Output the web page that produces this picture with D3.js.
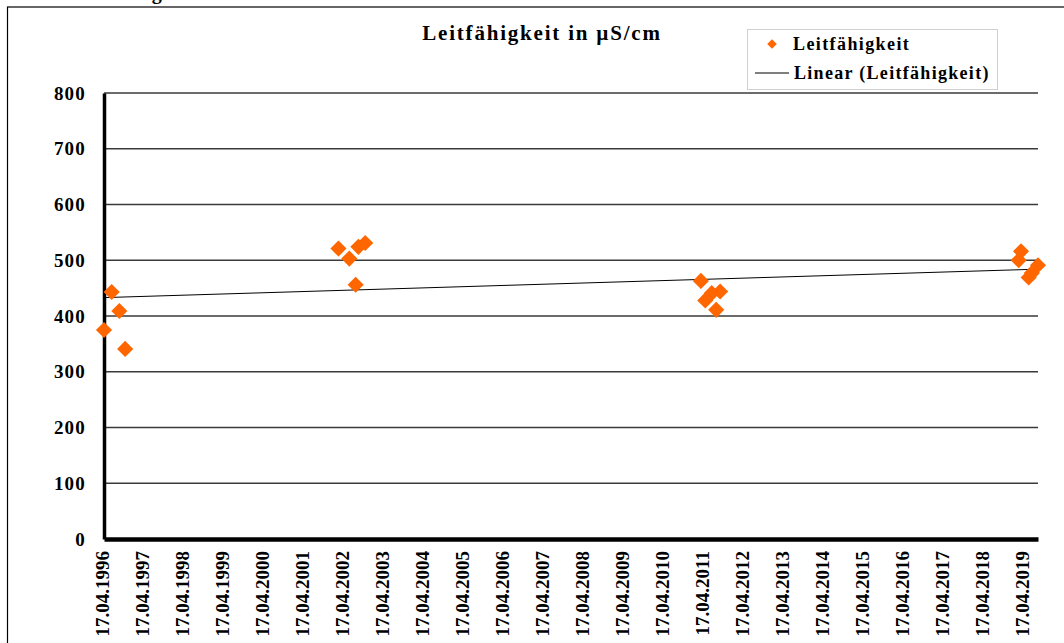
<!DOCTYPE html>
<html>
<head>
<meta charset="utf-8">
<script src="https://cdn.jsdelivr.net/npm/d3@7"></script>
<style>
  body { margin: 0; background: #fff; }
  svg { display: block; }
  text { font-family: "Liberation Serif", "Times New Roman", serif; font-weight: bold; fill: #000; }
</style>
</head>
<body>
<svg width="1064" height="643"></svg>
<script>
// Messwerte (Datum, Leitfähigkeit in µS/cm)
var dates = ["17.04.1996", "26.06.1996", "04.09.1996", "27.10.1996",
             "25.02.2002", "04.06.2002", "01.08.2002", "26.08.2002", "27.10.2002",
             "18.03.2011", "27.04.2011", "25.06.2011", "05.08.2011", "10.09.2011",
             "25.02.2019", "18.03.2019", "27.05.2019", "25.06.2019", "20.08.2019"];
var values = [375, 443, 409, 341,
              521, 503, 456, 524, 531,
              463, 428, 441, 411, 444,
              500, 516, 469, 477, 491];

// linearer Trend: Start- und Endwert
var trendDates = ["17.04.1996", "20.08.2019"];
var trendValues = [433, 484];

var yTicks = [0, 100, 200, 300, 400, 500, 600, 700, 800];
var xTickLabels = ["17.04.1996", "17.04.1997", "17.04.1998", "17.04.1999", "17.04.2000",
                   "17.04.2001", "17.04.2002", "17.04.2003", "17.04.2004", "17.04.2005",
                   "17.04.2006", "17.04.2007", "17.04.2008", "17.04.2009", "17.04.2010",
                   "17.04.2011", "17.04.2012", "17.04.2013", "17.04.2014", "17.04.2015",
                   "17.04.2016", "17.04.2017", "17.04.2018", "17.04.2019"];

var parse = d3.timeParse("%d.%m.%Y");
var svg = d3.select("svg");

var x = d3.scaleTime()
    .domain([parse("17.04.1996"), parse("20.08.2019")])
    .range([104, 1038]);
var y = d3.scaleLinear().domain([0, 800]).range([539, 93]);

// Text aus dem Dokument darüber (abgeschnitten)
svg.append("text").attr("x", 68).attr("y", -1)
    .style("font-size", "20px").style("letter-spacing", "2px").text("Leitfähigkeit");

// Rahmen
svg.append("rect").attr("x", 7.5).attr("y", 7).attr("width", 1070).attr("height", 650)
    .attr("fill", "none").attr("stroke", "#000").attr("stroke-width", 1.2);

// Gitternetz
svg.append("g").selectAll("line")
  .data(yTicks.filter(function(d) { return d > 0; }))
  .enter().append("line")
    .attr("x1", x.range()[0]).attr("x2", x.range()[1])
    .attr("y1", function(d) { return y(d); })
    .attr("y2", function(d) { return y(d); })
    .attr("stroke", "#3a3a3a").attr("stroke-width", 1.3);

// Achsen
var yAxis = svg.append("g")
    .attr("transform", "translate(" + x.range()[0] + ",0)")
    .call(d3.axisLeft(y).tickValues(yTicks).tickSize(0).tickPadding(18));
yAxis.select(".domain").attr("stroke", "#000").attr("stroke-width", 3.5);
yAxis.selectAll("text").style("font-size", "19px").style("letter-spacing", "1.2px")
    .attr("font-family", null);

var xAxis = svg.append("g")
    .attr("transform", "translate(0," + y(0) + ")")
    .call(d3.axisBottom(x)
      .tickValues(xTickLabels.map(parse))
      .tickSize(0)
      .tickFormat(d3.timeFormat("%d.%m.%Y")));
xAxis.select(".domain").attr("stroke", "#000").attr("stroke-width", 4.5);
xAxis.selectAll("text")
    .style("font-size", "19px")
    .attr("font-family", null)
    .attr("text-anchor", "end")
    .attr("transform", "rotate(-90)")
    .attr("x", -12).attr("y", -2).attr("dy", "0.35em");

// Trendlinie
svg.append("path")
    .datum(trendDates.map(function(d, i) { return {date: parse(d), value: trendValues[i]}; }))
    .attr("fill", "none").attr("stroke", "#000").attr("stroke-width", 1)
    .attr("d", d3.line().x(function(d) { return x(d.date); }).y(function(d) { return y(d.value); }));

// Messpunkte
var diamond = d3.symbol().type(d3.symbolSquare).size(130);
svg.append("g").selectAll("path")
  .data(dates.map(function(d, i) { return {date: parse(d), value: values[i]}; }))
  .enter().append("path")
    .attr("d", diamond)
    .attr("transform", function(d) { return "translate(" + x(d.date) + "," + y(d.value) + ") rotate(45)"; })
    .attr("fill", "#ff6600");

// Titel
svg.append("text").attr("x", 542).attr("y", 40).attr("text-anchor", "middle")
    .style("font-size", "21px").style("letter-spacing", "1.8px").text("Leitfähigkeit in µS/cm");

// Legende
var legend = svg.append("g");
legend.append("rect").attr("x", 747.5).attr("y", 29.5).attr("width", 250).attr("height", 60)
    .attr("fill", "#fff").attr("stroke", "#d0d0d0");
legend.append("path").attr("d", d3.symbol().type(d3.symbolSquare).size(45))
    .attr("transform", "translate(772,44) rotate(45)").attr("fill", "#ff6600");
legend.append("text").attr("x", 793).attr("y", 50).style("font-size", "18px")
    .style("letter-spacing", "1.4px").text("Leitfähigkeit");
legend.append("line").attr("x1", 755).attr("x2", 789).attr("y1", 73).attr("y2", 73)
    .attr("stroke", "#000").attr("stroke-width", 1);
legend.append("text").attr("x", 794).attr("y", 79).style("font-size", "18px")
    .style("letter-spacing", "1.3px").text("Linear (Leitfähigkeit)");
</script>
</body>
</html>
